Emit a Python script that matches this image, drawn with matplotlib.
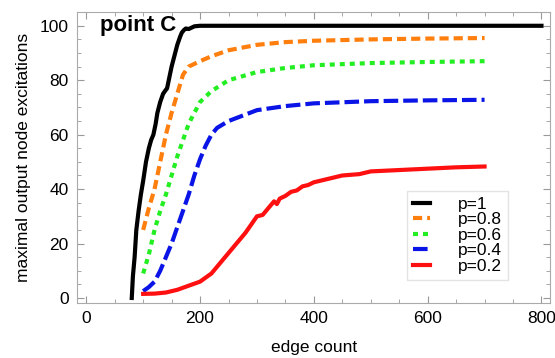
import numpy as np
import matplotlib.pyplot as plt
from matplotlib.ticker import MultipleLocator

plt.rcParams['font.family'] = ['Liberation Sans', 'DejaVu Sans']

# p=1
x_p10 = [80, 82, 85, 88, 92, 96, 100, 105, 110, 114, 118, 122, 125, 130, 135, 140, 142, 146, 150, 155, 160, 165, 168, 172, 175, 180, 185, 190, 200, 250, 300, 400, 500, 600, 700, 800]
y_p10 = [0, 8, 15, 25, 32, 38, 43, 50, 55, 58, 60, 64, 68, 72, 75, 76.5, 77, 81, 85, 89, 93, 96, 97.5, 98.5, 99, 98.8, 99.3, 99.8, 100, 100, 100, 100, 100, 100, 100, 100]
# p=0.8
x_p08 = [100, 110, 120, 130, 140, 150, 160, 170, 180, 200, 220, 250, 300, 350, 400, 500, 600, 700]
y_p08 = [25, 33, 40, 50, 60, 68, 75, 82, 85, 87, 88.8, 91, 93, 94, 94.5, 95, 95.3, 95.5]
# p=0.6
x_p06 = [100, 110, 120, 130, 140, 150, 160, 170, 180, 190, 200, 220, 250, 300, 350, 400, 500, 600, 700]
y_p06 = [9, 16, 25, 32, 38, 45, 52, 58, 64, 68, 72, 76, 80, 83, 84.5, 85.5, 86.3, 86.7, 87]
# p=0.4
x_p04 = [100, 110, 120, 130, 140, 150, 160, 170, 180, 190, 200, 210, 220, 230, 250, 300, 350, 400, 500, 600, 700]
y_p04 = [2.5, 4, 6, 10, 15, 20, 26, 32, 38, 45, 51, 56, 60, 62.5, 65, 69, 70.5, 71.5, 72.3, 72.6, 72.8]
# p=0.2
x_p02 = [100, 120, 140, 160, 180, 200, 220, 240, 260, 280, 290, 300, 310, 320, 330, 335, 340, 350, 360, 370, 380, 390, 400, 420, 450, 480, 500, 550, 600, 650, 700]
y_p02 = [1.5, 1.6, 2, 3, 4.5, 6, 9, 14, 19, 24, 27, 30, 30.5, 33, 35.5, 34.5, 36.5, 37.5, 39, 39.5, 41, 41.5, 42.5, 43.5, 45, 45.5, 46.5, 47, 47.5, 48, 48.3]

fig = plt.figure(figsize=(5.55, 3.58), dpi=100)
ax = fig.add_axes([0.139, 0.154, 0.852, 0.812])

ax.plot(x_p10, y_p10, color='black', lw=3, label='p=1')
ax.plot(x_p08, y_p08, color='#ff7f0e', lw=3, dashes=(2.2, 1.2), label='p=0.8')
ax.plot(x_p06, y_p06, color='#22ee22', lw=3, dashes=(1.2, 1.2), label='p=0.6')
ax.plot(x_p04, y_p04, color='#0a14e6', lw=3, dashes=(3.5, 1.2), label='p=0.4')
ax.plot(x_p02, y_p02, color='#ff1010', lw=3, label='p=0.2')

ax.set_xlim(-16, 815)
ax.set_ylim(-1.8, 105)
ax.xaxis.set_major_locator(MultipleLocator(200))
ax.xaxis.set_minor_locator(MultipleLocator(50))
ax.yaxis.set_major_locator(MultipleLocator(20))
ax.yaxis.set_minor_locator(MultipleLocator(5))
ax.tick_params(which='both', direction='in', top=True, right=True, color='#999999', labelsize=12.5)
ax.tick_params(which='major', length=5, pad=6)
ax.tick_params(which='minor', length=3)
for s in ax.spines.values():
    s.set_color('#aaaaaa')

ax.set_xlabel('edge count', fontsize=12.5, labelpad=10)
ax.set_ylabel('maximal output node excitations', fontsize=12.5, labelpad=6)
ax.text(24, 100, 'point C', fontsize=16, fontweight='bold', va='center')

leg = ax.legend(loc='lower right', bbox_to_anchor=(0.911, 0.079), fontsize=12.5, handlelength=1.0,
                handletextpad=1.6, labelspacing=0.02, fancybox=False, borderpad=0.35,
                borderaxespad=0)
leg.get_frame().set_edgecolor('#dddddd')

fig.savefig('out.png', dpi=100)
